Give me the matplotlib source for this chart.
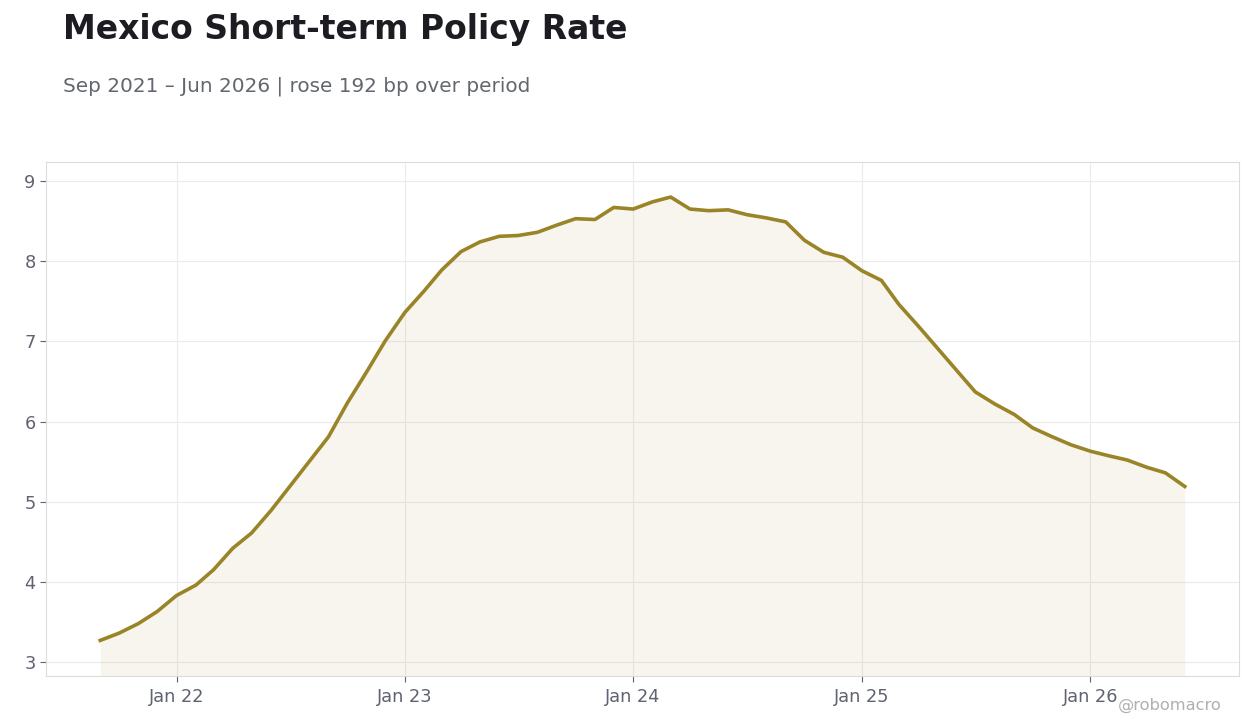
import matplotlib
matplotlib.use("Agg")
import matplotlib.pyplot as plt
import matplotlib.dates as mdates
import numpy as np
import pandas as pd

dates = pd.date_range("2021-09-01", "2026-06-01", freq="MS")
rate = [3.27, 3.36, 3.48, 3.63, 3.83, 3.96, 4.15, 4.42, 4.61, 4.89,
        5.19, 5.50, 5.81, 6.23, 6.62, 7.01, 7.36, 7.63, 7.89, 8.12,
        8.24, 8.31, 8.32, 8.36, 8.45, 8.53, 8.52, 8.67, 8.65, 8.74,
        8.80, 8.65, 8.63, 8.64, 8.58, 8.54, 8.49, 8.26, 8.11, 8.05,
        7.88, 7.76, 7.46, 7.19, 6.92, 6.64, 6.37, 6.22, 6.09, 5.92,
        5.81, 5.71, 5.63, 5.57, 5.52, 5.43, 5.36, 5.19]
xtick_dates = pd.to_datetime(["2022-01-01", "2023-01-01", "2024-01-01", "2025-01-01", "2026-01-01"])
xtick_labels = ["Jan 22", "Jan 23", "Jan 24", "Jan 25", "Jan 26"]
yticks = [3, 4, 5, 6, 7, 8, 9]

LINE = "#9a8428"
TXT = "#5f6370"

fig = plt.figure(figsize=(12.6, 7.28), dpi=100)
ax = fig.add_axes([46 / 1260, 1 - 676 / 728, (1239 - 46) / 1260, (676 - 162) / 728])

ylo, yhi = 2.826, 9.237
ax.fill_between(dates, rate, ylo, color=LINE, alpha=0.08, linewidth=0)
ax.plot(dates, rate, color=LINE, linewidth=2.6, solid_joinstyle="round")
ax.set_ylim(ylo, yhi)
ax.margins(x=0.05)

ax.set_xticks(xtick_dates)
ax.set_xticklabels(xtick_labels)
ax.set_yticks(yticks)
ax.tick_params(axis="both", colors=TXT, labelsize=12.8, length=4, width=0.8)
ax.tick_params(axis="x", pad=5)
ax.grid(True, color="#ebebeb", linewidth=0.8)
ax.set_axisbelow(True)
for s in ax.spines.values():
    s.set_color("#dcdcdc")
    s.set_linewidth(0.8)

fig.text(63 / 1260, 1 - 29 / 728, "Mexico Short-term Policy Rate", fontsize=23.8,
         fontweight="bold", color="#1c1c22", va="center", ha="left")
fig.text(63 / 1260, 1 - 86 / 728, "Sep 2021 \u2013 Jun 2026 | rose 192 bp over period",
         fontsize=14.4, color="#62666f", va="center", ha="left")
fig.text(1222 / 1260, 1 - 705 / 728, "@robomacro", fontsize=11.7, color="#b0b0b0",
         va="center", ha="right")

fig.savefig("out.png", dpi=100)
